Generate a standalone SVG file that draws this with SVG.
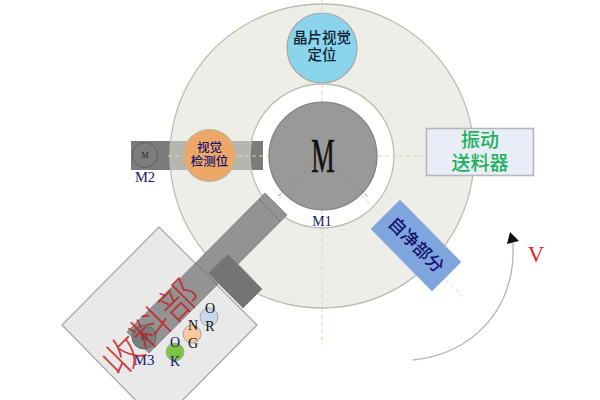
<svg xmlns="http://www.w3.org/2000/svg" width="600" height="400" viewBox="0 0 600 400">
<style>
.cjk{font-family:"Liberation Serif","Noto Sans CJK SC","Noto Sans CJK JP",sans-serif;text-anchor:middle}
.ser{font-family:"Liberation Serif",serif;text-anchor:middle}
.navy{fill:#14146e}
.axis{stroke:#d8d8bc;stroke-width:1;stroke-dasharray:4 3;fill:none}
.ol{stroke:#a8a8a0;stroke-width:1.2}
.small{font-size:14px;fill:#111}
.tiny{font-size:14px}
</style>
<rect width="600" height="400" fill="#fff"/>
<g id="m2-bar"><rect x="131" y="141" width="132" height="29" fill="#7b7b7b"/></g>
<g id="disc"><path d="M322 4a152 152 0 1 0 .01 0ZM322 84a72 72 0 1 1-.01 0Z" fill="#e0e2d6" fill-opacity=".58" fill-rule="evenodd" stroke="#bcbcb2" stroke-width="1.3"/></g>
<g id="connectors">
<path class="axis" d="M322 0V345M168 156H430M322 156L463 297M322 156L200 278"/>
<path d="M413 360C470 354 516 312 513 243" fill="none" stroke="#b5b5b5" stroke-width="1.4"/>
<path d="M510 232L519 241L507 244Z" fill="#111"/>
</g>
<g id="collector">
<path d="M159 227L257 325L159 424L62 325Z" fill="#e9e9ea" stroke="#a9a9a9" stroke-width="1.3"/>
</g>
<g id="arm">
<path d="M265 193L287 215L149 353L127 332Z" fill="#939393" stroke="#8a8a8a"/>
<path d="M259 199L280 221M196 263L217 285" stroke="#7c7c7c" fill="none"/>
<path d="M228 254L262 289L243 308L208 273Z" fill="#747474" stroke="#8c8c8c"/>
</g>
<g id="m1"><circle cx="323" cy="156" r="54" fill="#999" stroke="#7e7e7e" stroke-width="1.2"/>
<path d="M323 156L277 197M323 156L368 197" stroke="#8c8c84" fill="none" stroke-dasharray="4 3"/>
<text class="ser" transform="translate(323 172) scale(.55 1)" font-size="48" fill="#111" stroke="#111" stroke-width=".6">M</text>
<text class="ser navy" x="322" y="226" font-size="14">M1</text></g>
<g id="m2"><circle cx="145" cy="155" r="12.5" fill="#7d7d7d" stroke="#5e5e5e"/>
<text class="ser" x="145" y="158" font-size="8" fill="#222">M</text>
<text class="ser navy" x="145" y="182" font-size="14.500">M2</text></g>
<g id="vision-locate"><circle cx="322" cy="48" r="35" fill="#8ad4ec" class="ol"/>
<text class="cjk" font-size="14.500" font-weight="500" fill="#123"><tspan x="322" y="43">晶片视觉</tspan><tspan x="322" y="60">定位</tspan></text></g>
<g id="vision-detect"><circle cx="209.5" cy="155.5" r="26" fill="#eda868" stroke="#b8b8a8" stroke-width="1.2"/>
<text class="cjk navy" font-size="12.500" font-weight="500"><tspan x="209.5" y="151.500">视觉</tspan><tspan x="209.5" y="166">检测位</tspan></text></g>
<g id="feeder"><rect x="426.500" y="128.500" width="107" height="47" fill="#e8edf8" stroke="#b8b8b8" stroke-width="1.6"/>
<text class="cjk" font-size="19" font-weight="500" fill="#1db05a"><tspan x="480" y="147">振动</tspan><tspan x="480" y="170">送料器</tspan></text></g>
<g id="clean"><path d="M400 200L461 262L432 291L371 229Z" fill="#7fa5de" stroke="#9cb4d8"/>
<text class="cjk navy" transform="translate(416 245) rotate(45)" y="6" font-size="17.500" font-weight="500">自净部分</text></g>
<g id="m3"><circle cx="144" cy="337" r="12" fill="#7d7d7d" stroke="#666"/>
<text class="ser" x="144" y="340" font-size="8" fill="#222">M</text>
<text class="ser navy" x="144" y="365" font-size="15">M3</text></g>
<g id="ok"><circle cx="175" cy="352" r="9" fill="#7cc544" stroke="#a8a8a0"/>
<text class="ser navy tiny"><tspan x="175" y="347">O</tspan><tspan x="175" y="366">K</tspan></text></g>
<g id="ng"><circle cx="192" cy="334" r="9" fill="#f8c9a0" stroke="#a8a8a0"/>
<text class="ser small"><tspan x="193" y="330">N</tspan><tspan x="193" y="348">G</tspan></text></g>
<g id="or"><circle cx="209" cy="317" r="9" fill="#c6d8ec" stroke="#a8a8a0"/>
<text class="ser small"><tspan x="210" y="313">O</tspan><tspan x="210" y="331">R</tspan></text></g>
<g id="collector-label"><text class="cjk" transform="translate(151 328) rotate(-45)" y="14" font-size="39" font-weight="300" fill="#c41e24" fill-opacity=".85">收料部</text></g>
<g id="speed"><text class="ser" x="536" y="262" font-size="23" fill="#ee1c1c">V</text></g>
</svg>
